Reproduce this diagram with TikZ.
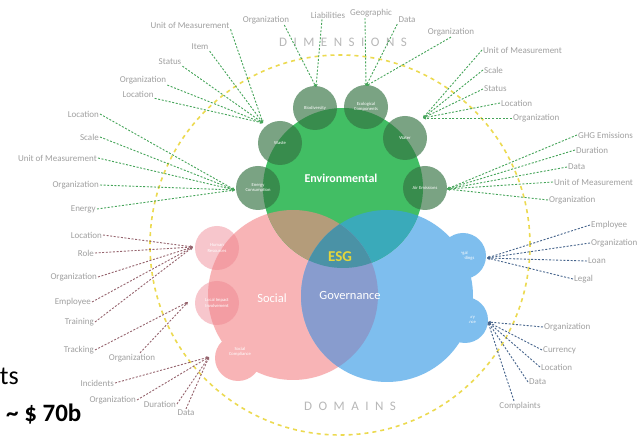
\documentclass[tikz,border=0pt]{standalone}
\usepackage{fontspec}
\setmainfont{Carlito}
\newfontfamily\spaced[LetterSpace=50]{Carlito}
\usetikzlibrary{arrows.meta}
\definecolor{gmain}{RGB}{66,190,100}
\definecolor{gdark}{RGB}{51,114,65}
\definecolor{pmain}{RGB}{248,180,182}
\definecolor{psmall}{RGB}{238,130,142}
\definecolor{bmain}{RGB}{126,190,238}
\definecolor{brownx}{RGB}{180,156,122}
\definecolor{tealx}{RGB}{58,170,186}
\definecolor{purplex}{RGB}{136,156,206}
\definecolor{centerx}{RGB}{74,146,166}
\definecolor{yellowx}{RGB}{236,218,80}
\definecolor{spokeg}{RGB}{70,165,90}
\definecolor{spokep}{RGB}{150,100,110}
\definecolor{spokeb}{RGB}{70,100,140}
\definecolor{labelc}{RGB}{160,160,160}
\definecolor{esgyellow}{RGB}{228,214,60}
\tikzset{
  lbl/.style={font=\fontsize{9}{10}\selectfont, text=labelc, inner sep=1pt},
  lblL/.style={lbl, anchor=east},
  lblR/.style={lbl, anchor=west},
  spk/.style={dash pattern=on 2pt off 1.6pt, line width=0.9pt, -{Stealth[length=3pt,width=3pt]}},
  gspk/.style={spk, draw=spokeg},
  pspk/.style={spk, draw=spokep},
  bspk/.style={spk, draw=spokeb},
  gcirc/.style={circle, minimum size=44pt, inner sep=0pt, fill=gdark, fill opacity=0.65, text opacity=1, text=white, font=\fontsize{4.6}{5.2}\selectfont, align=center},
  pcirc/.style={circle, minimum size=44pt, inner sep=0pt, fill=psmall, fill opacity=0.45, text opacity=1, text=white, font=\fontsize{4.6}{5.2}\selectfont, align=center},
  bcirc/.style={circle, minimum size=46pt, inner sep=0pt, fill=bmain, text=white, font=\fontsize{4.6}{5.2}\selectfont, align=center},
  base/.style={circle, inner sep=0pt},
}
\begin{document}
\begin{tikzpicture}[x=1pt,y=-1pt]
\useasboundingbox (0,0) rectangle (638,443);
\fill[white] (0,0) rectangle (638,443);
% outer dashed circle
\draw[yellowx, line width=1.6pt, dash pattern=on 4pt off 4pt] (340,245) circle[radius=190pt];
% titles
\node[font=\spaced\fontsize{13}{13}\selectfont, text=black!28] (dim) at (343,42) {DIMENSIONS};
\node[font=\spaced\fontsize{13}{13}\selectfont, text=black!28] (dom) at (350,406) {DOMAINS};
% slide fragments
\node[anchor=base east, font=\fontsize{26}{26}\selectfont, text=black, inner sep=0pt] (ts) at (19,385) {ts};
\node[anchor=base west, font=\bfseries\fontsize{25}{25}\selectfont, text=black, inner sep=0pt] (amt) at (6,422) {\textasciitilde\ \$ 70b};

% blue lobes
\node[bcirc] (bl1) at (463,256) {Legal\\Proceedings};
\node[bcirc] (bl2) at (465,320) {Regulatory\\Compliance};
% base circles
\node[base, minimum size=170pt, fill=pmain] (P) at (293,295) {};
\node[base, minimum size=172pt, fill=bmain] (B) at (387,296) {};
\node[base, minimum size=160pt, fill=gmain] (G) at (343,188) {};
% intersections
\begin{scope}
  \clip (G.center) circle[radius=80pt];
  \fill[brownx] (P.center) circle[radius=85pt];
  \fill[tealx] (B.center) circle[radius=86pt];
\end{scope}
\begin{scope}
  \clip (P.center) circle[radius=85pt];
  \fill[purplex] (B.center) circle[radius=86pt];
  \clip (B.center) circle[radius=86pt];
  \fill[centerx] (G.center) circle[radius=80pt];
\end{scope}
% pink small circles
\node[base, minimum size=46pt, fill=pmain] (ps3) at (238,358) {};
\node[pcirc] (ps1) at (217,248) {Human\\Resources};
\node[pcirc] (ps2) at (217,303) {Local Impact\\Involvement};
\node[text=white, font=\fontsize{4.6}{5.2}\selectfont, align=center] (ps3t) at (240,352) {Social\\Compliance};
% green dark circles
\node[gcirc] (bio) at (315,108) {Biodiversity};
\node[gcirc] (eco) at (366,107) {Ecological\\Components};
\node[gcirc] (was) at (280,143) {Waste};
\node[gcirc] (wat) at (405,138) {Water};
\node[gcirc] (ene) at (258,188) {Energy\\Consumption};
\node[gcirc] (air) at (425,188) {Air Emissions};
% main texts
\node[font=\bfseries\fontsize{12}{12}\selectfont, text=white] (envt) at (341,178) {Environmental};
\node[font=\bfseries\fontsize{15}{15}\selectfont, text=esgyellow] (esg) at (340,257) {ESG};
\node[font=\fontsize{12.5}{12.5}\selectfont, text=white] (soct) at (272,298) {Social};
\node[font=\fontsize{12.5}{12.5}\selectfont, text=white] (govt) at (350,295) {Governance};

% hubs
\coordinate (htl) at (263,123);
\coordinate (hbio) at (316,87);
\coordinate (heco) at (366,86);
\coordinate (hwat) at (423,118);
\coordinate (hair) at (447,189);
\coordinate (hene) at (235,190);
\coordinate (hp1) at (193,247);
\coordinate (hp2) at (188,302);
\coordinate (hp3) at (209,357);
\coordinate (hb1) at (487,258);
\coordinate (hb2) at (488,322);

% top-left group
\node[lbl] (a1) at (190,25) {Unit of Measurement};
\node[lbl] (a2) at (200,47) {Item};
\node[lbl] (a3) at (170,62) {Status};
\node[lbl] (a4) at (143,80) {Organization};
\node[lbl] (a5) at (138,94) {Location};
\foreach \n in {a1,a2,a3,a4,a5} \draw[gspk] (\n.south east) -- (htl);
% biodiversity
\node[lbl] (b1) at (266,20) {Organization};
\node[lbl] (b2) at (328,15) {Liabilities};
\draw[gspk] ([xshift=-6pt]b1.south east) -- (hbio);
\draw[gspk] ([xshift=-6pt]b2.south) -- (hbio);
% ecological
\node[lbl] (c1) at (371,13) {Geographic};
\node[lbl] (c2) at (407,20) {Data};
\node[lbl] (c3) at (451,32) {Organization};
\draw[gspk] ([xshift=-6pt]c1.south) -- (heco);
\draw[gspk] (c2.south west) -- (heco);
\draw[gspk] (c3.south) -- (heco);
% water
\node[lblR] (d1) at (482,50) {Unit of Measurement};
\node[lblR] (d2) at (483,70) {Scale};
\node[lblR] (d3) at (483,89) {Status};
\node[lblR] (d4) at (500,103) {Location};
\node[lblR] (d5) at (512,118) {Organization};
\foreach \n in {d1,d2,d3,d4,d5} \draw[gspk] (\n.west) -- (hwat);
% air
\node[lblR] (e1) at (577,135) {GHG Emissions};
\node[lblR] (e2) at (575,150) {Duration};
\node[lblR] (e3) at (567,167) {Data};
\node[lblR] (e4) at (553,182) {Unit of Measurement};
\node[lblR] (e5) at (548,200) {Organization};
\foreach \n in {e1,e2,e3,e4,e5} \draw[gspk] (\n.west) -- (hair);
% energy
\node[lblL] (f1) at (100,114) {Location};
\node[lblL] (f2) at (100,137) {Scale};
\node[lblL] (f3) at (98,158) {Unit of Measurement};
\node[lblL] (f4) at (100,185) {Organization};
\node[lblL] (f5) at (97,209) {Energy};
\foreach \n in {f1,f2,f3,f4,f5} \draw[gspk] (\n.east) -- (hene);
% pink 1
\node[lblL] (g1) at (103,235) {Location};
\node[lblL] (g2) at (95,253) {Role};
\node[lblL] (g3) at (98,277) {Organization};
\node[lblL] (g4) at (92,302) {Employee};
\node[lblL] (g5) at (95,322) {Training};
\foreach \n in {g1,g2,g3,g4,g5} \draw[pspk] (\n.east) -- (hp1);
% pink 2
\node[lblL] (h1) at (95,350) {Tracking};
\node[lbl] (h2) at (132,358) {Organization};
\draw[pspk] (h1.east) -- (hp2);
\draw[pspk] ([xshift=8pt]h2.north) -- (hp2);
% pink 3
\node[lblL] (i1) at (115,383) {Incidents};
\node[lblL] (i2) at (137,400) {Organization};
\node[lblL] (i3) at (177,404) {Duration};
\node[lbl] (i4) at (186,413) {Data};
\foreach \n in {i1,i2,i3} \draw[pspk] (\n.east) -- (hp3);
\draw[pspk] (i4.north) -- (hp3);
% blue 1
\node[lblR] (j1) at (590,225) {Employee};
\node[lblR] (j2) at (590,243) {Organization};
\node[lblR] (j3) at (587,261) {Loan};
\node[lblR] (j4) at (573,279) {Legal};
\foreach \n in {j1,j2,j3,j4} \draw[bspk] (\n.west) -- (hb1);
% blue 2
\node[lblR] (k1) at (543,327) {Organization};
\node[lblR] (k2) at (542,350) {Currency};
\node[lblR] (k3) at (540,367) {Location};
\node[lblR] (k4) at (528,382) {Data};
\node[lbl] (k5) at (520,406) {Complaints};
\foreach \n in {k1,k2,k3,k4} \draw[bspk] (\n.west) -- (hb2);
\draw[bspk] ([xshift=-6pt]k5.north) -- (hb2);
\end{tikzpicture}
\end{document}
